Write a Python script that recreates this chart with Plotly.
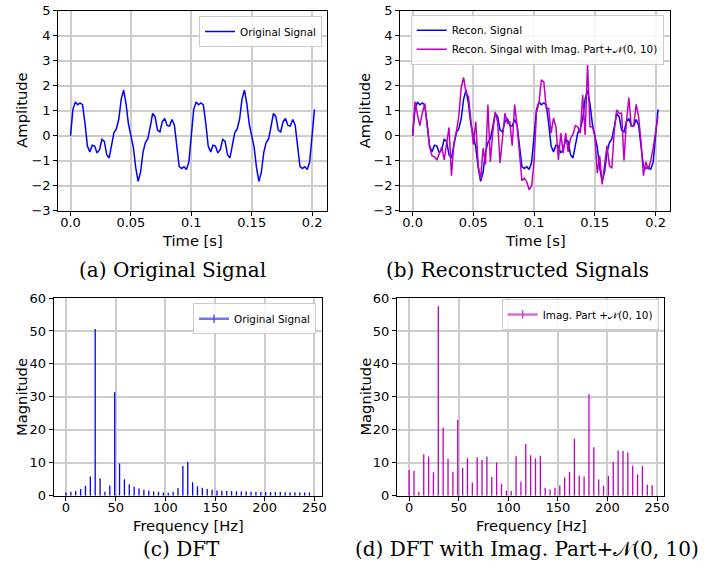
import plotly.graph_objects as go

W, H = 722, 572

# ---------------- data ----------------
time_s = [0.000, 0.002, 0.004, 0.006, 0.008, 0.010, 0.012, 0.014, 0.016, 0.018,
          0.020, 0.022, 0.024, 0.026, 0.028, 0.030, 0.032, 0.034, 0.036, 0.038,
          0.040, 0.042, 0.044, 0.046, 0.048, 0.050, 0.052, 0.054, 0.056, 0.058,
          0.060, 0.062, 0.064, 0.066, 0.068, 0.070, 0.072, 0.074, 0.076, 0.078,
          0.080, 0.082, 0.084, 0.086, 0.088, 0.090, 0.092, 0.094, 0.096, 0.098,
          0.100, 0.102, 0.104, 0.106, 0.108, 0.110, 0.112, 0.114, 0.116, 0.118,
          0.120, 0.122, 0.124, 0.126, 0.128, 0.130, 0.132, 0.134, 0.136, 0.138,
          0.140, 0.142, 0.144, 0.146, 0.148, 0.150, 0.152, 0.154, 0.156, 0.158,
          0.160, 0.162, 0.164, 0.166, 0.168, 0.170, 0.172, 0.174, 0.176, 0.178,
          0.180, 0.182, 0.184, 0.186, 0.188, 0.190, 0.192, 0.194, 0.196, 0.198,
          0.200, 0.202]

original_signal = [
    0.000, 1.055, 1.350, 1.238, 1.311, 1.236, 0.493, -0.417, -0.647, -0.383,
    -0.412, -0.688, -0.560, -0.149, -0.225, -0.764, -0.890, -0.358, 0.126, 0.272,
    0.666, 1.461, 1.827, 1.275, 0.457, 0.000, -0.457, -1.275, -1.827, -1.461,
    -0.666, -0.272, -0.126, 0.358, 0.890, 0.764, 0.225, 0.149, 0.560, 0.688,
    0.412, 0.383, 0.647, 0.417, -0.493, -1.236, -1.311, -1.238, -1.350, -1.055,
    0.000, 1.055, 1.350, 1.238, 1.311, 1.236, 0.493, -0.417, -0.647, -0.383,
    -0.412, -0.688, -0.560, -0.149, -0.225, -0.764, -0.890, -0.358, 0.126, 0.272,
    0.666, 1.461, 1.827, 1.275, 0.457, 0.000, -0.457, -1.275, -1.827, -1.461,
    -0.666, -0.272, -0.126, 0.358, 0.890, 0.764, 0.225, 0.149, 0.560, 0.688,
    0.412, 0.383, 0.647, 0.417, -0.493, -1.236, -1.311, -1.238, -1.350, -1.055,
    0.000, 1.055]

recon_signal = list(original_signal)

recon_noisy_signal = [
    0.00, 1.36, 0.85, 0.40, 0.90, 1.28, 0.40, -0.45, -0.80, -0.85,
    -0.97, -0.70, -0.45, -0.97, -0.35, 0.33, -1.60, -0.30, 0.15, 0.75,
    1.93, 2.33, 1.70, 1.56, 0.60, -0.35, 0.56, -1.20, -1.75, -0.50,
    -1.15, 1.25, -1.05, 0.15, 0.95, 0.55, -1.10, -0.20, 0.90, 0.50,
    0.55, -0.40, 1.25, 0.40, -0.80, -1.80, -1.70, -1.85, -2.17, -2.00,
    -1.00, 0.95, 1.30, 2.23, 2.15, 1.10, 1.10, 0.10, 0.70, 0.35,
    -0.97, 0.10, -0.70, 0.10, -0.65, -0.10, 0.05, 0.40, 0.35, 0.10,
    1.63, 0.03, 2.90, 0.36, 0.36, 0.00, -1.50, -0.80, -1.95, -1.20,
    -0.40, -1.20, -1.30, 0.20, 1.03, 0.90, 0.90, -1.00, 0.56, 1.52,
    0.36, 0.43, 1.25, 0.76, -0.24, -1.60, -1.05, -1.35, -1.00, -0.50,
    0.20, 0.80]

freq_hz = [0.00, 4.90, 9.80, 14.71, 19.61, 24.51, 29.41, 34.31, 39.22, 44.12,
           49.02, 53.92, 58.82, 63.73, 68.63, 73.53, 78.43, 83.33, 88.24, 93.14,
           98.04, 102.94, 107.84, 112.75, 117.65, 122.55, 127.45, 132.35, 137.25, 142.16,
           147.06, 151.96, 156.86, 161.76, 166.67, 171.57, 176.47, 181.37, 186.27, 191.18,
           196.08, 200.98, 205.88, 210.78, 215.69, 220.59, 225.49, 230.39, 235.29, 240.20,
           245.10]

dft_original = [1.0, 1.2, 1.4, 2.0, 3.0, 5.8, 50.6, 5.3, 1.2, 3.1,
                31.4, 9.8, 5.0, 3.5, 2.7, 2.2, 1.8, 1.5, 1.3, 1.1,
                1.0, 0.9, 1.2, 2.3, 9.0, 10.2, 4.1, 2.9, 2.4, 2.0,
                1.8, 1.6, 1.5, 1.45, 1.4, 1.35, 1.3, 1.25, 1.2, 1.2,
                1.15, 1.15, 1.1, 1.1, 1.1, 1.05, 1.05, 1.05, 1.0, 1.0,
                1.0]

dft_noisy = [7.8, 7.6, 1.2, 12.6, 11.9, 7.1, 57.5, 20.7, 11.2, 7.3,
             23.0, 8.4, 11.4, 4.0, 11.7, 10.8, 11.9, 5.7, 10.1, 3.6,
             1.5, 1.5, 12.0, 4.2, 15.7, 12.3, 11.4, 12.1, 2.4, 1.9,
             2.4, 3.1, 5.5, 7.2, 17.3, 6.1, 5.8, 30.8, 14.7, 4.9,
             3.0, 6.0, 10.2, 13.7, 13.6, 13.1, 9.1, 6.4, 9.0, 3.3,
             3.2]

time_ticks = [0.0, 0.05, 0.1, 0.15, 0.2]
time_tick_labels = ["0.0", "0.05", "0.1", "0.15", "0.2"]
amp_ticks = [-3, -2, -1, 0, 1, 2, 3, 4, 5]
freq_ticks = [0, 50, 100, 150, 200, 250]
mag_ticks = [0, 10, 20, 30, 40, 50, 60]

# ---------------- style ----------------
BLUE = "#0000ff"
MAG = "#bf00bf"
GRID = "#cdcdcd"
SANS = "DejaVu Sans"
SERIF = "DejaVu Serif"
TICKF = dict(family=SANS, size=13, color="black")
TITLEF = dict(family=SANS, size=14.7, color="black")
LEGF = dict(family=SANS, size=10.4, color="black")


def px_x(p):
    return p / W


def px_y(p):
    return 1 - p / H


def stems(xs, ys):
    sx, sy = [], []
    for x, y in zip(xs, ys):
        sx += [x, x, None]
        sy += [0, y, None]
    return sx, sy


fig = go.Figure()

# (a)
fig.add_trace(go.Scatter(x=time_s, y=original_signal, mode="lines",
                         line=dict(color=BLUE, width=1.5), name="Original Signal",
                         xaxis="x", yaxis="y", legend="legend"))
# (b)
fig.add_trace(go.Scatter(x=time_s, y=recon_signal, mode="lines",
                         line=dict(color=BLUE, width=1.5), name="Recon. Signal",
                         xaxis="x2", yaxis="y2", legend="legend2"))
fig.add_trace(go.Scatter(x=time_s, y=recon_noisy_signal, mode="lines",
                         line=dict(color=MAG, width=1.5),
                         name="Recon. Singal with Imag. Part+𝒩(0, 10)",
                         xaxis="x2", yaxis="y2", legend="legend2"))
# (c)
sx, sy = stems(freq_hz, dft_original)
fig.add_trace(go.Scatter(x=sx, y=sy, mode="lines", line=dict(color=BLUE, width=1.3),
                         showlegend=False, xaxis="x3", yaxis="y3", hoverinfo="skip"))
fig.add_trace(go.Scatter(x=[None], y=[None], mode="lines+markers",
                         line=dict(color="rgba(70,70,255,0.75)", width=2.5),
                         marker=dict(symbol="line-ns", size=6,
                                     line=dict(color="rgba(70,70,255,0.9)", width=1.5)),
                         name="Original Signal", xaxis="x3", yaxis="y3", legend="legend3"))
# (d)
sx, sy = stems(freq_hz, dft_noisy)
fig.add_trace(go.Scatter(x=sx, y=sy, mode="lines", line=dict(color=MAG, width=1.3),
                         showlegend=False, xaxis="x4", yaxis="y4", hoverinfo="skip"))
fig.add_trace(go.Scatter(x=[None], y=[None], mode="lines+markers",
                         line=dict(color="rgba(200,60,200,0.75)", width=2.5),
                         marker=dict(symbol="line-ns", size=6,
                                     line=dict(color="rgba(200,60,200,0.9)", width=1.5)),
                         name="Imag. Part +𝒩(0, 10)", xaxis="x4", yaxis="y4", legend="legend4"))


def axis(domain, rng, tickvals, ticktext, anchor, is_x):
    d = dict(domain=domain, range=rng, tickvals=tickvals, ticktext=ticktext,
             showgrid=True, gridcolor=GRID, gridwidth=1.6, zeroline=False,
             showline=True, linecolor="black", linewidth=1.1, mirror=True,
             ticks="outside", ticklen=4, tickwidth=1.1, tickcolor="black",
             tickfont=TICKF, anchor=anchor, automargin=False, fixedrange=True)
    if is_x:
        d["ticklabelstandoff"] = -4
    return d


amp_text = [str(v).replace("-", "\u2212") for v in amp_ticks]
freq_text = [str(v) for v in freq_ticks]
mag_text = [str(v) for v in mag_ticks]

# plot areas in pixels
A = (58.3, 326.7, 10.7, 210.7)
B = (400.3, 670.3, 10.7, 210.7)
C = (53.8, 321.7, 298.0, 495.7)
D = (397.0, 664.3, 298.0, 495.7)

t_rng = [-0.0101, 0.2121]
f_rng = [-12.25, 257.36]

layout = dict(
    width=W, height=H, margin=dict(l=0, r=0, t=0, b=0),
    paper_bgcolor="white", plot_bgcolor="white", showlegend=True,
    xaxis=axis([px_x(A[0]), px_x(A[1])], t_rng, time_ticks, time_tick_labels, "y", True),
    yaxis=axis([px_y(A[3]), px_y(A[2])], [-3, 5], amp_ticks, amp_text, "x", False),
    xaxis2=axis([px_x(B[0]), px_x(B[1])], t_rng, time_ticks, time_tick_labels, "y2", True),
    yaxis2=axis([px_y(B[3]), px_y(B[2])], [-3, 5], amp_ticks, amp_text, "x2", False),
    xaxis3=axis([px_x(C[0]), px_x(C[1])], f_rng, freq_ticks, freq_text, "y3", True),
    yaxis3=axis([px_y(C[3]), px_y(C[2])], [0, 60], mag_ticks, mag_text, "x3", False),
    xaxis4=axis([px_x(D[0]), px_x(D[1])], f_rng, freq_ticks, freq_text, "y4", True),
    yaxis4=axis([px_y(D[3]), px_y(D[2])], [0, 60], mag_ticks, mag_text, "x4", False),
)


def legend(right, top):
    return dict(x=px_x(right), y=px_y(top), xanchor="right", yanchor="top",
                bgcolor="rgba(255,255,255,0.85)", bordercolor="#cccccc", borderwidth=1,
                font=LEGF, itemwidth=30, tracegroupgap=0, itemclick=False)


layout["legend"] = legend(322, 16)
layout["legend2"] = legend(663.7, 14.7)
layout["legend3"] = legend(316, 303.3)
layout["legend4"] = legend(658.7, 299)

fig.update_layout(**layout)

ann = []


def label(text, x, y, angle=0, font=TITLEF):
    ann.append(dict(text=text, x=px_x(x), y=px_y(y), xref="paper", yref="paper",
                    showarrow=False, textangle=angle, font=font,
                    xanchor="center", yanchor="middle"))


label("Amplitude", 22, 110.7, -90)
label("Time [s]", 192.5, 240)
label("Amplitude", 364.5, 110.7, -90)
label("Time [s]", 535.3, 240)
label("Magnitude", 22, 396.9, -90)
label("Frequency [Hz]", 188, 525)
label("Magnitude", 365.7, 396.9, -90)
label("Frequency [Hz]", 531, 525)

CAPF = dict(family=SERIF, size=20, color="black")
label("(a) Original Signal", 172, 270, font=CAPF)
label("(b) Reconstructed Signals", 517, 270, font=CAPF)
label("(c) DFT", 182, 549, font=CAPF)
label("(d) DFT with Imag. Part+𝒩(0, 10)", 527, 549, font=CAPF)

fig.update_layout(annotations=ann)

fig.write_html("out.html")
